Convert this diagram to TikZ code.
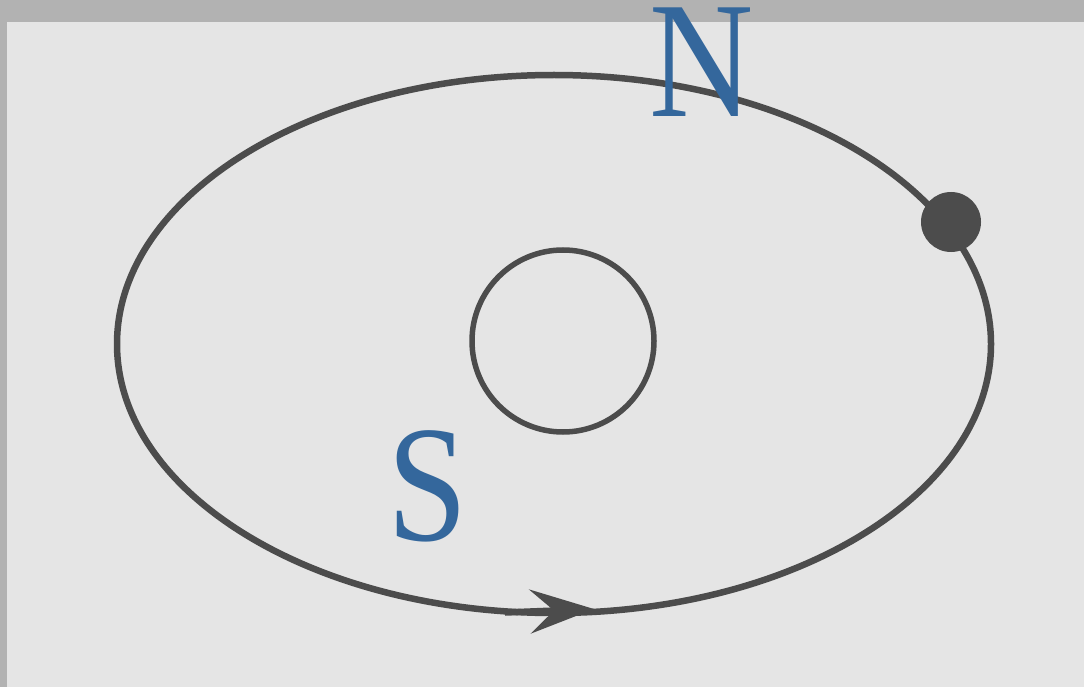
\documentclass[tikz,border=0pt]{standalone}
\usepackage{fontspec}
\setmainfont{Liberation Serif}
\newfontfamily\polefont[FakeStretch=0.87]{Liberation Serif}
\usetikzlibrary{arrows.meta}

\definecolor{frame}{RGB}{178,178,178}
\definecolor{paper}{RGB}{229,229,229}
\definecolor{ink}{RGB}{76,76,76}
\definecolor{pole}{RGB}{52,103,156}

\tikzset{
  orbitline/.style={draw=ink,line width=6.5pt},
  pole/.style={font=\polefont\fontsize{166}{166}\selectfont,text=pole,inner sep=0pt,anchor=base}
}

\begin{document}
\begin{tikzpicture}[x=1pt,y=-1pt]
  % scan frame and paper
  \fill[frame] (0,0) rectangle (1084,687);
  \fill[paper] (7,22) rectangle (1084,687);
  \useasboundingbox (0,0) rectangle (1084,687);

  % orbit and centre
  \draw[orbitline] (554,344) ellipse [x radius=437,y radius=269];
  \draw[draw=ink,line width=5.5pt] (563,341) circle [radius=91];
  \fill[ink] (951,222) circle [radius=30];

  % direction of motion
  \coordinate (a1) at (505,612.5);
  \coordinate (a2) at (594,609);
  \draw[orbitline,-{Stealth[length=64pt,width=44pt,inset=24pt]}] (a1) -- (a2);

  % labels
  \node[pole] (n) at (702,117) {N};
  \node[pole] (s) at (428,540) {S};
\end{tikzpicture}
\end{document}
